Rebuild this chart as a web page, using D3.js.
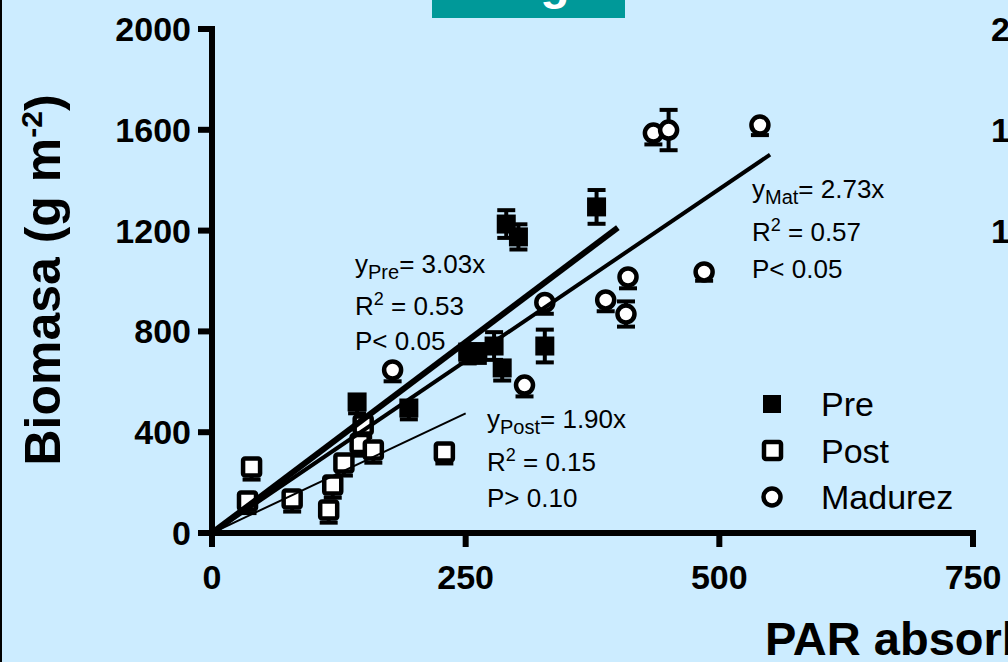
<!DOCTYPE html>
<html>
<head>
<meta charset="utf-8">
<script src="https://cdn.jsdelivr.net/npm/d3@7"></script>
<style>
  html, body { margin: 0; padding: 0; background: #ccecff; overflow: hidden; }
  svg { display: block; font-family: Arial, "Liberation Sans", sans-serif; }
</style>
</head>
<body>
<div id="chart"></div>
<script>
// data
var preX   = [143, 194, 252, 262, 278, 286, 290, 302, 328, 379];
var preY   = [520, 496, 718, 720, 742, 655, 1226, 1175, 742, 1294];
var preUp  = [0, 0, 0, 0, 55, 0, 55, 50, 65, 67];
var preLo  = [45, 45, 45, 45, 55, 50, 55, 50, 65, 67];

var postX  = [35, 39, 79, 115, 119, 130, 146, 149, 159, 229];
var postY  = [127, 262, 135, 91, 190, 278, 355, 429, 329, 321];
var postUp = [0, 0, 0, 0, 0, 0, 0, 0, 0, 0];
var postLo = [48, 50, 50, 50, 50, 50, 48, 48, 50, 45];

var matX   = [178, 308, 328, 388, 408, 410, 435, 450, 485, 540];
var matY   = [647, 587, 915, 925, 869, 1016, 1587, 1599, 1036, 1619];
var matUp  = [0, 0, 0, 0, 50, 0, 0, 80, 0, 0];
var matLo  = [45, 45, 45, 45, 50, 45, 45, 80, 35, 40];

// fitted lines through origin
var fitNames = ["Pre", "Post", "Mat"];
var fitSlope = [3.03, 1.90, 2.73];
var fitXmax  = [400, 250, 550];
var fitR2    = ["0.53", "0.15", "0.57"];
var fitP     = ["P< 0.05", "P> 0.10", "P< 0.05"];

var xTicks = [0, 250, 500, 750];
var yTicks = [0, 400, 800, 1200, 1600, 2000];
var legendNames = ["Pre", "Post", "Madurez"];

var W = 1008, H = 662;

var svg = d3.select("#chart")
  .append("svg")
    .attr("width", W)
    .attr("height", H);

svg.append("rect").attr("width", W).attr("height", H).attr("fill", "#ccecff");
// left slide edge
svg.append("rect").attr("x", 0).attr("y", 0).attr("width", 2).attr("height", H).attr("fill", "#000");

// teal title box cut at top
svg.append("rect").attr("x", 432).attr("y", 0).attr("width", 193).attr("height", 18).attr("fill", "#009999");
svg.append("text").attr("x", 555).attr("y", -1).attr("text-anchor", "middle")
  .attr("fill", "#fff").style("font-size", "48px").style("font-weight", "bold").text("g");

var x = d3.scaleLinear().domain([0, 750]).range([212, 973]);
var y = d3.scaleLinear().domain([0, 2000]).range([533, 29]);

// neighbouring chart's tick labels at right edge
svg.selectAll(".nb").data([2000, 1600, 1200]).enter().append("text")
  .attr("x", 991).attr("y", function(d) { return y(d) + 12; })
  .style("font-size", "34px").style("font-weight", "bold").text(function(d) { return d; });

// axes
var g = svg.append("g");
g.append("line").attr("x1", x(0)).attr("x2", x(0)).attr("y1", y(2000) - 3).attr("y2", y(0) + 14)
  .attr("stroke", "#000").attr("stroke-width", 6);
g.append("line").attr("x1", x(0) - 14).attr("x2", x(750) + 3).attr("y1", y(0)).attr("y2", y(0))
  .attr("stroke", "#000").attr("stroke-width", 6);
g.selectAll(".yt").data(yTicks).enter().append("line")
  .attr("x1", x(0) - 14).attr("x2", x(0)).attr("y1", function(d) { return y(d); }).attr("y2", function(d) { return y(d); })
  .attr("stroke", "#000").attr("stroke-width", 6);
g.selectAll(".xt").data(xTicks).enter().append("line")
  .attr("y1", y(0)).attr("y2", y(0) + 14).attr("x1", function(d) { return x(d); }).attr("x2", function(d) { return x(d); })
  .attr("stroke", "#000").attr("stroke-width", 6);
g.selectAll(".yl").data(yTicks).enter().append("text")
  .attr("x", 191).attr("y", function(d) { return y(d) + 12; }).attr("text-anchor", "end")
  .style("font-size", "34px").style("font-weight", "bold").text(function(d) { return d; });
g.selectAll(".xl").data(xTicks).enter().append("text")
  .attr("x", function(d) { return x(d); }).attr("y", 589).attr("text-anchor", "middle")
  .style("font-size", "34px").style("font-weight", "bold").text(function(d) { return d; });

// axis titles
var yt = svg.append("text").attr("transform", "translate(60,280) rotate(-90)")
  .attr("text-anchor", "middle").style("font-size", "50px").style("font-weight", "bold");
yt.append("tspan").text("Biomasa (g m");
yt.append("tspan").attr("dy", -18).style("font-size", "30px").text("-2");
yt.append("tspan").attr("dy", 18).text(")");
svg.append("text").attr("x", 765).attr("y", 655).style("font-size", "47px").style("font-weight", "bold")
  .text("PAR absorbida (MJ m-2)");

// error bars
function errorBars(xs, ys, up, lo) {
  var eb = svg.append("g").attr("stroke", "#000").attr("stroke-width", 4);
  xs.forEach(function(v, i) {
    var cx = x(v), top = y(ys[i] + up[i]), bot = y(ys[i] - lo[i]);
    eb.append("line").attr("x1", cx).attr("x2", cx).attr("y1", top).attr("y2", bot);
    if (up[i] > 0) eb.append("line").attr("x1", cx - 9).attr("x2", cx + 9).attr("y1", top).attr("y2", top);
    eb.append("line").attr("x1", cx - 9).attr("x2", cx + 9).attr("y1", bot).attr("y2", bot);
  });
}
errorBars(preX, preY, preUp, preLo);
errorBars(matX, matY, matUp, matLo);
errorBars(postX, postY, postUp, postLo);

// markers
svg.append("g").selectAll("rect").data(preX).enter().append("rect")
  .attr("x", function(d) { return x(d) - 9.5; })
  .attr("y", function(d, i) { return y(preY[i]) - 9.5; })
  .attr("width", 19).attr("height", 19).attr("fill", "#000");

svg.append("g").selectAll("circle").data(matX).enter().append("circle")
  .attr("cx", function(d) { return x(d); })
  .attr("cy", function(d, i) { return y(matY[i]); })
  .attr("r", 8.5).attr("fill", "#fff").attr("stroke", "#000").attr("stroke-width", 4.5);

svg.append("g").selectAll("rect").data(postX).enter().append("rect")
  .attr("x", function(d) { return x(d) - 8.5; })
  .attr("y", function(d, i) { return y(postY[i]) - 8.5; })
  .attr("width", 17).attr("height", 17).attr("rx", 2)
  .attr("fill", "#fff").attr("stroke", "#000").attr("stroke-width", 4.5);

// regression lines
var lineW = [6, 2, 4];
fitSlope.forEach(function(s, i) {
  svg.append("line")
    .attr("x1", x(0)).attr("y1", y(0))
    .attr("x2", x(fitXmax[i])).attr("y2", y(s * fitXmax[i]))
    .attr("stroke", "#000").attr("stroke-width", lineW[i]);
});

// equation labels
var labPos = [[355, 273], [487, 428], [752, 198]];
var lineGap = [[42, 77], [43, 79], [43, 80]];
fitNames.forEach(function(n, i) {
  var lx = labPos[i][0], ly = labPos[i][1];
  var t1 = svg.append("text").attr("x", lx).attr("y", ly).style("font-size", "26px");
  t1.append("tspan").text("y");
  t1.append("tspan").attr("dy", 6).style("font-size", "20px").text(n);
  t1.append("tspan").attr("dy", -6).text("= " + fitSlope[i].toFixed(2) + "x");
  var t2 = svg.append("text").attr("x", lx).attr("y", ly + lineGap[i][0]).style("font-size", "26px");
  t2.append("tspan").text("R");
  t2.append("tspan").attr("dy", -10).style("font-size", "18px").text("2");
  t2.append("tspan").attr("dy", 10).text(" = " + fitR2[i]);
  svg.append("text").attr("x", lx).attr("y", ly + lineGap[i][1]).style("font-size", "26px").text(fitP[i]);
});

// legend
var lg = svg.append("g");
legendNames.forEach(function(n, i) {
  var cy = 404 + i * 46.5;
  if (i === 0) {
    lg.append("rect").attr("x", 763).attr("y", cy - 9).attr("width", 18).attr("height", 18).attr("fill", "#000");
  } else if (i === 1) {
    lg.append("rect").attr("x", 764).attr("y", cy - 8.5).attr("width", 17).attr("height", 17).attr("rx", 2)
      .attr("fill", "#fff").attr("stroke", "#000").attr("stroke-width", 4.5);
  } else {
    lg.append("circle").attr("cx", 772).attr("cy", cy).attr("r", 8.5)
      .attr("fill", "#fff").attr("stroke", "#000").attr("stroke-width", 4.5);
  }
  lg.append("text").attr("x", 821).attr("y", cy + 12).style("font-size", "34px").text(n);
});
</script>
</body>
</html>
